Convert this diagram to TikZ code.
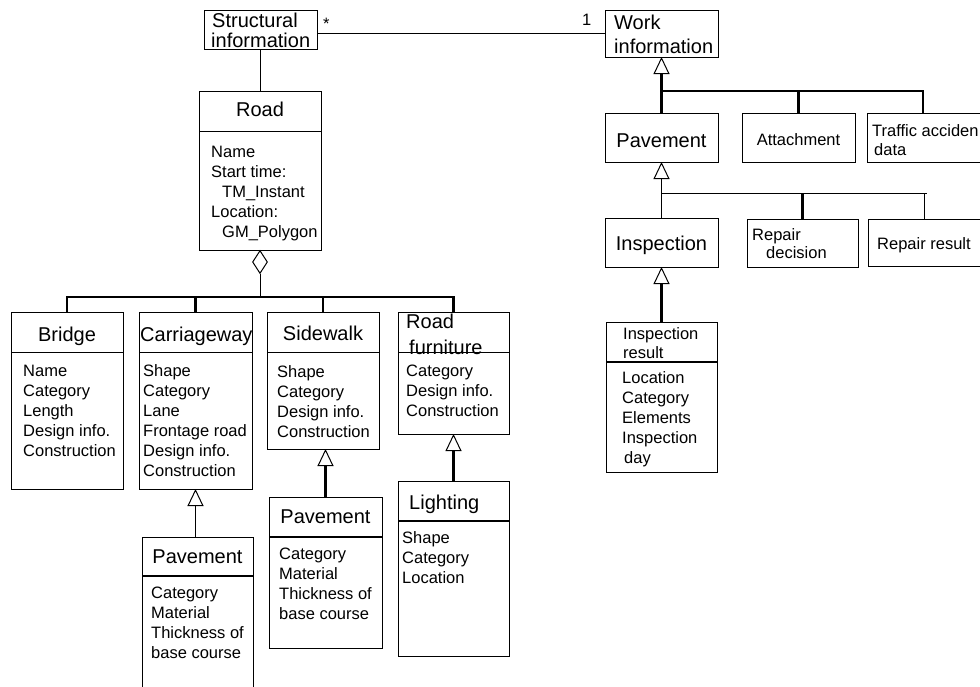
\documentclass[tikz,border=0pt]{standalone}
\usepackage{fontspec}
\setmainfont{Liberation Sans}
\usetikzlibrary{arrows.meta,shapes.geometric,fit}
\newcommand\attrfont{\fontsize{16.5}{20}\selectfont}
\newcommand\titlefont{\fontsize{20}{24}\selectfont}
\newcommand\cbox[5]{%
  \coordinate (#1-nw) at (#2,#3);
  \coordinate (#1-se) at (#4,#5);
  \node[cbox, fit=(#1-nw)(#1-se)] (#1) {};}
\tikzset{
  cbox/.style={draw, line width=1pt, inner sep=0pt, outer sep=0pt},
  thin line/.style={line width=1pt},
  thick line/.style={line width=2.3pt},
  div/.style={line width=1pt},
  divthick/.style={line width=1.9pt},
  inh/.style={arrows={Triangle[open, length=17pt, width=16pt, line width=1pt]-}},
  ttl/.style={inner sep=0pt, font=\titlefont, anchor=base},
  ttlw/.style={inner sep=0pt, font=\titlefont, anchor=base west},
  sml/.style={inner sep=0pt, font=\attrfont, anchor=base west},
  smlc/.style={inner sep=0pt, font=\attrfont, anchor=base},
  attrs/.style={inner sep=0pt, font=\attrfont, anchor=north west, align=left},
}
\begin{document}
\begin{tikzpicture}[x=1pt,y=-1pt]
\useasboundingbox (0,0) rectangle (980,686);
\clip (0,0) rectangle (980,686);

% ---------- boxes ----------
\cbox{struct}{204}{10}{317}{49}
\cbox{work}{605}{10}{718}{57}
\cbox{road}{199}{91}{321}{250}
\cbox{bridge}{11}{312}{123}{489}
\cbox{carr}{139}{312}{252}{489}
\cbox{side}{267}{312}{379}{449}
\cbox{furn}{398}{312}{509}{434}
\cbox{cpav}{142}{537}{253}{700}
\cbox{spav}{269}{497}{382}{648}
\cbox{light}{398}{481}{509}{656}
\cbox{pavR}{605}{113}{718}{162}
\cbox{att}{742}{113}{855}{162}
\cbox{traf}{867}{113}{1000}{162}
\cbox{insp}{605}{218}{718}{267}
\cbox{repd}{747}{219}{858}{267}
\cbox{repr}{868}{219}{1000}{266}
\cbox{insr}{606}{322}{717}{472}

% ---------- texts ----------
\node[ttlw] (t-struct1) at (212,27) {Structural};
\node[ttlw] (t-struct2) at (211,47.5) {information};
\node[ttlw] (t-work1) at (614,29) {Work};
\node[ttlw] (t-work2) at (614,53) {information};
\node[sml] (m-star) at (323,29) {*};
\node[sml] (m-one) at (582,25) {1};

\node[ttl] (t-road) at (260,116) {Road};
\node[attrs] (a-road) at (211,143) {\strut Name\\\strut Start time:\\\strut\hspace*{11pt}TM\_Instant\\\strut Location:\\\strut\hspace*{11pt}GM\_Polygon};

\node[ttl] (t-bridge) at (67,341) {Bridge};
\node[attrs] (a-bridge) at (23,362) {\strut Name\\\strut Category\\\strut Length\\\strut Design info.\\\strut Construction};

\node[ttlw] (t-carr) at (140,341) {Carriageway};
\node[attrs] (a-carr) at (143,362) {\strut Shape\\\strut Category\\\strut Lane\\\strut Frontage road\\\strut Design info.\\\strut Construction};

\node[ttl] (t-side) at (323,340) {Sidewalk};
\node[attrs] (a-side) at (277,363) {\strut Shape\\\strut Category\\\strut Design info.\\\strut Construction};

\node[ttlw] (t-furn1) at (406,328) {Road};
\node[ttlw] (t-furn2) at (409,354) {furniture};
\node[attrs] (a-furn) at (406,362) {\strut Category\\\strut Design info.\\\strut Construction};

\node[ttl] (t-cpav) at (197.5,563) {Pavement};
\node[attrs] (a-cpav) at (151,584) {\strut Category\\\strut Material\\\strut Thickness of\\\strut base course};

\node[ttl] (t-spav) at (325.5,523) {Pavement};
\node[attrs] (a-spav) at (279,545) {\strut Category\\\strut Material\\\strut Thickness of\\\strut base course};

\node[ttlw] (t-light) at (409,509) {Lighting};
\node[attrs] (a-light) at (402,529) {\strut Shape\\\strut Category\\\strut Location};

\node[ttl] (t-pavR) at (661.5,147) {Pavement};
\node[smlc] (t-att) at (798.5,145) {Attachment};
\node[sml] (t-traf1) at (872,136) {Traffic acciden};
\node[sml] (t-traf2) at (874,155) {data};
\node[ttl] (t-insp) at (661.5,250) {Inspection};
\node[sml] (t-repd1) at (752,240) {Repair};
\node[sml] (t-repd2) at (766,258) {decision};
\node[sml] (t-repr) at (877,249) {Repair result};
\node[sml] (t-insr1) at (623,339) {Inspection};
\node[sml] (t-insr2) at (623,358) {result};
\node[attrs] (a-insr) at (622,369) {\strut Location\\\strut Category\\\strut Elements\\\strut Inspection\\\strut\hspace*{2pt}day};

% ---------- dividers ----------
\draw[div] (road.west |- 0,131) -- (road.east |- 0,131);
\draw[div] (bridge.west |- 0,352) -- (bridge.east |- 0,352);
\draw[div] (carr.west |- 0,352) -- (carr.east |- 0,352);
\draw[div] (side.west |- 0,352) -- (side.east |- 0,352);
\draw[div] (furn.west |- 0,352) -- (furn.east |- 0,352);
\draw[divthick] (cpav.west |- 0,576) -- (cpav.east |- 0,576);
\draw[divthick] (spav.west |- 0,537) -- (spav.east |- 0,537);
\draw[divthick] (light.west |- 0,521) -- (light.east |- 0,521);
\draw[divthick] (insr.west |- 0,362) -- (insr.east |- 0,362);

% ---------- connectors: left ----------
\draw[thin line] (struct.east |- work.west) -- (work.west);
\draw[thin line] (struct.south) -- (struct.south |- road.north);
\node[diamond, draw, fill=white, line width=1pt, minimum width=15pt, minimum height=23pt, inner sep=0pt, anchor=north] (dia) at (road.south) {};
\coordinate (rbus) at (0,297);
\draw[thin line] (dia.south) -- (dia.south |- rbus);
\draw[thick line] (bridge.north) |- (furn.north |- rbus) -- (furn.north);
\draw[thick line] (carr.north) -- (carr.north |- rbus);
\draw[thick line] (side.north) -- (side.north |- rbus);
\draw[thin line, inh] (carr.south) -- (carr.south |- cpav.north);
\draw[thick line, inh] (spav.north |- side.south) -- (spav.north);
\draw[thick line, inh] (furn.south) -- (furn.south |- light.north);

% ---------- connectors: right ----------
\coordinate (wbus) at (0,91);
\coordinate (trx) at (923,0);
\draw[thick line, inh] (work.south) -- (pavR.north);
\draw[thick line] (work.south |- wbus) -- (trx |- wbus) -- (trx |- traf.north);
\draw[thick line] (att.north |- wbus) -- (att.north);
\coordinate (pbus) at (0,193);
\coordinate (pend) at (927,193);
\coordinate (rrx) at (924,0);
\draw[thin line, inh] (pavR.south) -- (insp.north);
\draw[thin line] (pavR.south |- pbus) -- (pend);
\draw[thick line] (repd.north |- pbus) -- (repd.north);
\draw[thin line] (rrx |- pbus) -- (rrx |- repr.north);
\draw[thick line, inh] (insp.south) -- (insr.north);
\end{tikzpicture}
\end{document}
